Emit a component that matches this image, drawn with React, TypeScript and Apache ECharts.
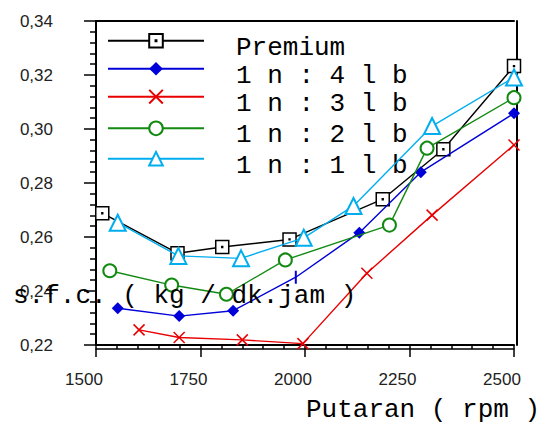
import React, { useEffect, useRef } from 'react';
import * as echarts from 'echarts';

// ---- data ----
const seriesNames = ['Premium', '1 n : 4 l b', '1 n : 3 l b', '1 n : 2 l b', '1 n : 1 l b'];

const premiumRpm = [1515, 1695, 1802, 1963, 2186, 2331, 2500];
const premiumSfc = [0.2688, 0.254, 0.2563, 0.2591, 0.274, 0.2925, 0.3233];

const lb4Rpm = [1552, 1699, 1828, 1978, 2130, 2277, 2500];
const lb4Sfc = [0.2336, 0.2307, 0.2327, 0.2451, 0.2616, 0.284, 0.3058];

const lb3Rpm = [1603, 1699, 1850, 1995, 2148, 2304, 2500];
const lb3Sfc = [0.2256, 0.2228, 0.2219, 0.2205, 0.2466, 0.2681, 0.2941];

const lb2Rpm = [1533, 1681, 1812, 1953, 2202, 2292, 2500];
const lb2Sfc = [0.2475, 0.2422, 0.2388, 0.2515, 0.2644, 0.2929, 0.3116];

const lb1Rpm = [1552, 1697, 1847, 1997, 2116, 2304, 2500];
const lb1Sfc = [0.2653, 0.253, 0.2521, 0.2597, 0.2715, 0.3011, 0.3191];

// the 4th point of the "1 n : 4 l b" series is drawn as a plain vertical tick
const lb4TickMarkIndex = 3;

const xMin = 1500;
const xMax = 2500;
const xInterval = 250;
const yMin = 0.22;
const yMax = 0.34;
const yInterval = 0.02;

const yAxisTitle = 's.f.c. ( kg / dk.jam )';
const xAxisTitle = 'Putaran ( rpm )';

const pairs = (xs: number[], ys: number[]) => xs.map((x, i) => [x, ys[i]]);

const MONO = '"Liberation Mono", "Courier New", monospace';
const SANS = '"Liberation Sans", Arial, sans-serif';

export default function App() {
  const ref = useRef<HTMLDivElement>(null);

  useEffect(() => {
    if (!ref.current) return;
    const chart = echarts.init(ref.current, undefined, { renderer: 'svg' });

    const plainAxisX = (extra: any) => ({
      type: 'value',
      min: xMin,
      max: xMax,
      interval: xInterval,
      axisLabel: { show: false },
      axisTick: { show: false },
      minorTick: { show: false },
      splitLine: { show: false },
      axisLine: { show: true, onZero: false, lineStyle: { color: '#000', width: 1.5 } },
      ...extra,
    });

    const lineBase = {
      type: 'line',
      showAllSymbol: true,
      animation: false,
      clip: false,
    };

    const lb4Data = pairs(lb4Rpm, lb4Sfc).map((v, i) =>
      i === lb4TickMarkIndex ? { value: v, symbol: 'rect', symbolSize: [2, 13] } : v
    );

    const legendTops = [20.7, 48.7, 76.7, 108.3, 138.7];

    chart.setOption({
      animation: false,
      backgroundColor: '#fff',
      grid: { left: 96, right: 39, top: 21, bottom: 79, containLabel: false },
      legend: seriesNames.map((n, i) => ({
        data: [n],
        left: 107,
        top: legendTops[i],
        padding: 0,
        itemWidth: 96,
        itemHeight: 17,
        selectedMode: false,
        formatter: '{t|{name}}',
        textStyle: {
          fontFamily: MONO,
          fontSize: 26,
          color: '#000',
          rich: {
            t: {
              fontFamily: MONO,
              fontSize: 26,
              lineHeight: 12,
              color: '#000',
              padding: [14, 0, 0, 27],
            },
          },
        },
      })),
      xAxis: [
        {
          type: 'value',
          position: 'bottom',
          min: xMin,
          max: xMax,
          interval: xInterval,
          axisLine: { show: true, onZero: false, lineStyle: { color: '#000', width: 2 } },
          axisTick: { show: true, length: 12, lineStyle: { color: '#000', width: 1.5 } },
          minorTick: { show: true, splitNumber: 5, length: 4, lineStyle: { color: '#000', width: 1.5 } },
          splitLine: { show: false },
          axisLabel: {
            margin: 26,
            fontFamily: SANS,
            fontSize: 17,
            color: '#222',
            padding: [0, 24, 0, 0],
            formatter: (v: number) => String(v),
          },
        },
        plainAxisX({ position: 'bottom', offset: 4 }),
        plainAxisX({ position: 'top', axisLine: { show: true, onZero: false, lineStyle: { color: '#000', width: 2 } } }),
      ],
      yAxis: [
        {
          type: 'value',
          position: 'left',
          min: yMin,
          max: yMax,
          interval: yInterval,
          axisLine: { show: true, onZero: false, lineStyle: { color: '#000', width: 2 } },
          axisTick: { show: true, length: 12, lineStyle: { color: '#000', width: 1.5 } },
          minorTick: { show: true, splitNumber: 5, length: 6, lineStyle: { color: '#000', width: 1.5 } },
          splitLine: { show: false },
          axisLabel: {
            margin: 43,
            fontFamily: SANS,
            fontSize: 17,
            color: '#222',
            padding: [4, 0, 0, 0],
            formatter: (v: number) => v.toFixed(2).replace('.', ','),
          },
        },
        {
          type: 'value',
          position: 'right',
          offset: 3,
          min: yMin,
          max: yMax,
          interval: yInterval,
          axisLine: { show: true, onZero: false, lineStyle: { color: '#000', width: 2 } },
          axisTick: { show: false },
          axisLabel: { show: false },
          splitLine: { show: false },
        },
      ],
      series: [
        {
          ...lineBase,
          name: seriesNames[0],
          data: pairs(premiumRpm, premiumSfc),
          symbol: 'path://M0,0H12V12H0ZM5.6,5.6H6.4V6.4H5.6Z',
          symbolSize: 13,
          itemStyle: { color: '#fff', borderColor: '#000', borderWidth: 1.5 },
          lineStyle: { color: '#000', width: 1.4 },
          z: 2,
        },
        {
          ...lineBase,
          name: seriesNames[1],
          data: lb4Data,
          symbol: 'diamond',
          symbolSize: 12,
          itemStyle: { color: '#0000d8', borderColor: '#0000d8', borderWidth: 0 },
          lineStyle: { color: '#0000d8', width: 1.4 },
          z: 3,
        },
        {
          ...lineBase,
          name: seriesNames[2],
          data: pairs(lb3Rpm, lb3Sfc),
          symbol: 'path://M0,0L12,12M12,0L0,12',
          symbolSize: 11,
          itemStyle: { color: '#e80000', borderColor: '#e80000', borderWidth: 1.5 },
          lineStyle: { color: '#e80000', width: 1.4 },
          z: 4,
        },
        {
          ...lineBase,
          name: seriesNames[3],
          data: pairs(lb2Rpm, lb2Sfc),
          symbol: 'emptyCircle',
          symbolSize: 13,
          itemStyle: { color: '#128a12', borderWidth: 1.5 },
          lineStyle: { color: '#128a12', width: 1.4 },
          z: 5,
        },
        {
          ...lineBase,
          name: seriesNames[4],
          data: pairs(lb1Rpm, lb1Sfc),
          symbol: 'emptyTriangle',
          symbolSize: 16,
          itemStyle: { color: '#00aeef', borderWidth: 1.5 },
          lineStyle: { color: '#00aeef', width: 1.4 },
          z: 6,
        },
      ],
      graphic: [
        {
          type: 'text',
          left: 13,
          top: 283,
          z: 100,
          style: {
            text: yAxisTitle,
            font: `26px ${MONO}`,
            fill: '#000',
          },
        },
        {
          type: 'text',
          left: 306,
          top: 397,
          z: 100,
          style: {
            text: xAxisTitle,
            font: `26px ${MONO}`,
            lineHeight: 22,
            fill: '#000',
          },
        },
      ],
    });

    return () => chart.dispose();
  }, []);

  return (
    <div
      ref={ref}
      style={{ position: 'fixed', left: 0, top: 0, width: 553, height: 424, background: '#fff' }}
    />
  );
}
